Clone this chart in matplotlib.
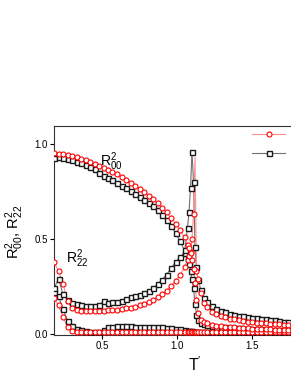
import matplotlib
matplotlib.use('Agg')
import matplotlib.pyplot as plt
from matplotlib.lines import Line2D
from matplotlib.ticker import FormatStrFormatter

plt.rcParams['font.family'] = ['Liberation Sans', 'DejaVu Sans']
plt.rcParams['mathtext.default'] = 'regular'

# reduced temperature
T = [0.18, 0.21, 0.24, 0.27, 0.30, 0.33, 0.36, 0.39, 0.42, 0.45,
     0.48, 0.51, 0.54, 0.57, 0.60, 0.63, 0.66, 0.69, 0.72, 0.75,
     0.78, 0.81, 0.84, 0.87, 0.90, 0.93, 0.96, 0.99, 1.02, 1.05,
     1.07, 1.08, 1.09, 1.10, 1.11, 1.12, 1.13, 1.14, 1.16, 1.18,
     1.20, 1.23, 1.26, 1.29, 1.32, 1.35, 1.38, 1.41, 1.44, 1.47,
     1.50, 1.53, 1.56, 1.59, 1.62, 1.65, 1.68, 1.71, 1.74, 1.77, 1.80]

red_R00 = [0.955, 0.950, 0.946, 0.941, 0.936, 0.930, 0.923, 0.915, 0.906, 0.896,
           0.886, 0.876, 0.865, 0.853, 0.840, 0.826, 0.811, 0.796, 0.781, 0.765,
           0.748, 0.729, 0.709, 0.688, 0.665, 0.640, 0.612, 0.580, 0.548, 0.508,
           0.470, 0.450, 0.425, 0.390, 0.340, 0.270, 0.180, 0.110, 0.075, 0.063,
           0.055, 0.048, 0.044, 0.041, 0.038, 0.036, 0.034, 0.032, 0.031, 0.030,
           0.028, 0.027, 0.026, 0.025, 0.024, 0.023, 0.022, 0.022, 0.021, 0.020, 0.020]

black_R00 = [0.925, 0.930, 0.926, 0.921, 0.915, 0.908, 0.900, 0.890, 0.879, 0.866,
             0.846, 0.832, 0.821, 0.808, 0.795, 0.781, 0.767, 0.752, 0.737, 0.722,
             0.706, 0.690, 0.672, 0.652, 0.628, 0.600, 0.568, 0.532, 0.490, 0.440,
             0.400, 0.370, 0.330, 0.290, 0.240, 0.160, 0.100, 0.072, 0.058, 0.050,
             0.045, 0.041, 0.038, 0.036, 0.034, 0.032, 0.030, 0.029, 0.028, 0.027,
             0.026, 0.025, 0.024, 0.023, 0.022, 0.021, 0.021, 0.020, 0.019, 0.019, 0.018]

red_R22 = [0.380, 0.330, 0.265, 0.175, 0.135, 0.124, 0.120, 0.119, 0.119, 0.120,
           0.121, 0.122, 0.124, 0.126, 0.128, 0.131, 0.134, 0.138, 0.143, 0.150,
           0.158, 0.167, 0.178, 0.192, 0.208, 0.228, 0.252, 0.278, 0.308, 0.350,
           0.390, 0.410, 0.430, 0.500, 0.630, 0.930, 0.330, 0.290, 0.215, 0.165,
           0.140, 0.118, 0.104, 0.094, 0.087, 0.081, 0.076, 0.072, 0.068, 0.065,
           0.062, 0.060, 0.058, 0.056, 0.054, 0.052, 0.050, 0.049, 0.047, 0.046, 0.045]

black_R22 = [0.240, 0.290, 0.210, 0.180, 0.165, 0.155, 0.150, 0.148, 0.147, 0.148,
             0.150, 0.172, 0.165, 0.166, 0.170, 0.175, 0.183, 0.192, 0.198, 0.205,
             0.213, 0.225, 0.242, 0.262, 0.285, 0.312, 0.345, 0.378, 0.405, 0.428,
             0.560, 0.640, 0.770, 0.960, 0.800, 0.460, 0.350, 0.285, 0.230, 0.190,
             0.170, 0.148, 0.133, 0.122, 0.113, 0.106, 0.100, 0.096, 0.092, 0.089,
             0.086, 0.083, 0.080, 0.077, 0.074, 0.071, 0.068, 0.065, 0.062, 0.060, 0.058]

red_low = [0.190, 0.150, 0.090, 0.035, 0.016, 0.011, 0.009, 0.008, 0.008, 0.008,
           0.008, 0.008, 0.008, 0.008, 0.008, 0.008, 0.008, 0.008, 0.008, 0.008,
           0.008, 0.008, 0.008, 0.008, 0.008, 0.008, 0.008, 0.008, 0.008, 0.008,
           0.008, 0.008, 0.008, 0.008, 0.008, 0.008, 0.008, 0.008, 0.008, 0.008,
           0.008, 0.008, 0.008, 0.008, 0.008, 0.008, 0.008, 0.008, 0.008, 0.008,
           0.008, 0.008, 0.008, 0.008, 0.008, 0.008, 0.008, 0.008, 0.008, 0.008, 0.008]

black_low = [0.220, 0.200, 0.130, 0.070, 0.040, 0.027, 0.019, 0.015, 0.012, 0.011,
             0.011, 0.022, 0.034, 0.038, 0.040, 0.040, 0.040, 0.040, 0.039, 0.039,
             0.038, 0.037, 0.036, 0.035, 0.034, 0.032, 0.030, 0.027, 0.024, 0.020,
             0.018, 0.016, 0.015, 0.013, 0.012, 0.011, 0.010, 0.010, 0.010, 0.009,
             0.009, 0.009, 0.009, 0.009, 0.009, 0.009, 0.009, 0.009, 0.009, 0.009,
             0.009, 0.009, 0.009, 0.009, 0.009, 0.009, 0.009, 0.009, 0.009, 0.009, 0.009]

legend_labels = ['Ising', 'MC']

RED = '#ff0000'
RED_LINE = '#ff8c8c'
BLACK = '#1a1a1a'
BLACK_LINE = '#707070'


def AddSeries(ax, values, marker, color, line_color, mew=0.8, skip=None):
    # line through all points, markers everywhere except the spike
    ax.plot(T, values, '-', color=line_color, lw=0.8, zorder=2)
    tm = [T[i] for i in range(len(T)) if i != skip]
    vm = [values[i] for i in range(len(T)) if i != skip]
    ax.plot(tm, vm, ls='none', marker=marker, ms=3.6, mfc='white',
            mec=color, mew=mew, zorder=3)


fig = plt.figure(figsize=(2.91, 3.76), dpi=100)
ax = fig.add_axes([54 / 291, (376 - 334.5) / 376, 270 / 291, 208.5 / 376])

for vals in (black_low, black_R22, black_R00):
    AddSeries(ax, vals, 's', BLACK, BLACK_LINE, mew=1.0)
AddSeries(ax, red_low, 'o', RED, RED_LINE)
AddSeries(ax, red_R22, 'o', RED, RED_LINE, skip=35)
AddSeries(ax, red_R00, 'o', RED, RED_LINE)

ax.set_xlim(0.18, 1.98)
ax.set_ylim(-0.003, 1.095)
ax.set_xticks([0.5, 1.0, 1.5])
ax.set_yticks([0.0, 0.5, 1.0])
ax.xaxis.set_major_formatter(FormatStrFormatter('%.1f'))
ax.yaxis.set_major_formatter(FormatStrFormatter('%.1f'))
ax.tick_params(direction='out', length=3, width=0.8, labelsize=7, pad=1.5)
for sp in ax.spines.values():
    sp.set_linewidth(0.8)
    sp.set_color('#333333')

ax.text(0.56, 0.905, 'R$^2_{00}$', fontsize=10, ha='center', va='center')
ax.text(0.335, 0.395, 'R$^2_{22}$', fontsize=10, ha='center', va='center')

ax.set_ylabel('R$^2_{00}$, R$^2_{22}$', fontsize=10.5)
ax.yaxis.set_label_coords(-0.104, 0.49)
ax.set_xlabel("T$'$", fontsize=11.5, va='top')
ax.xaxis.set_label_coords(0.522, -0.098)

handles = [
    Line2D([], [], color=RED_LINE, lw=0.8, marker='o', ms=3.6, mfc='white', mec=RED, mew=0.8),
    Line2D([], [], color=BLACK_LINE, lw=0.8, marker='s', ms=3.6, mfc='white', mec=BLACK, mew=1.0),
]
fig.legend(handles, legend_labels, loc='upper left',
           bbox_to_anchor=(252 / 291, (376 - 128) / 376), frameon=False,
           fontsize=10, handlelength=2.4, handletextpad=0.3, labelspacing=0.35,
           borderpad=0, borderaxespad=0)

fig.savefig('out.png', dpi=100)
plt.close(fig)
